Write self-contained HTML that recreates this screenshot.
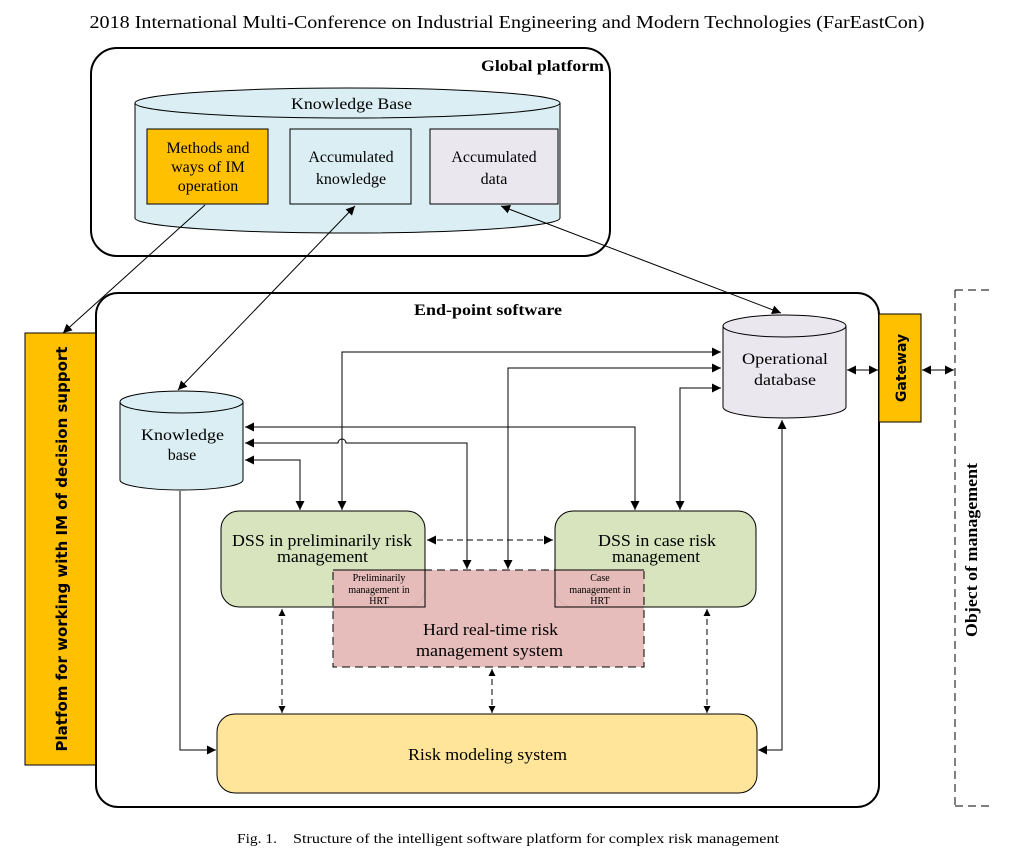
<!DOCTYPE html>
<html><head><meta charset="utf-8"><style>
html,body{margin:0;padding:0;background:#fff;}
svg{display:block;}
text{font-family:"Liberation Serif",serif;fill:#000;}
.s{font-family:"DejaVu Sans","Liberation Sans",sans-serif;font-weight:bold;}
</style></head><body>
<svg width="1014" height="852" viewBox="0 0 1014 852" xmlns="http://www.w3.org/2000/svg">
<defs>
<marker id="a" viewBox="0 0 10 10" refX="10" refY="5" markerWidth="9" markerHeight="9" orient="auto-start-reverse" markerUnits="userSpaceOnUse"><path d="M0,0 L10,5 L0,10 z" fill="#000"/></marker>
<marker id="b" viewBox="0 0 10 10" refX="10" refY="5" markerWidth="7" markerHeight="7" orient="auto-start-reverse" markerUnits="userSpaceOnUse"><path d="M0,0 L10,5 L0,10 z" fill="#000"/></marker>
</defs>
<text x="507" y="28" font-size="18" text-anchor="middle" textLength="835" lengthAdjust="spacingAndGlyphs">2018 International Multi-Conference on Industrial Engineering and Modern Technologies (FarEastCon)</text>

<!-- Global platform -->
<rect x="91" y="48" width="519" height="208" rx="26" fill="#fff" stroke="#000" stroke-width="2"/>
<text x="481" y="71" font-size="16" font-weight="bold" textLength="123" lengthAdjust="spacingAndGlyphs">Global platform</text>
<path d="M135,103 L135,218 A212,15 0 0 0 560,218 L560,103" fill="#daeef3" stroke="#000" stroke-width="1"/>
<ellipse cx="347.5" cy="103" rx="212.5" ry="15" fill="#daeef3" stroke="#000" stroke-width="1"/>
<text x="291" y="109" font-size="16" textLength="121" lengthAdjust="spacingAndGlyphs">Knowledge Base</text>
<rect x="147" y="129" width="121" height="75" fill="#ffc000" stroke="#000"/>
<text x="208" y="153" font-size="16" text-anchor="middle">Methods and</text>
<text x="208" y="172" font-size="16" text-anchor="middle">ways of IM</text>
<text x="208" y="191" font-size="16" text-anchor="middle">operation</text>
<rect x="290" y="129" width="121" height="75" fill="#daeef3" stroke="#000"/>
<text x="351" y="162" font-size="16" text-anchor="middle">Accumulated</text>
<text x="351" y="184" font-size="16" text-anchor="middle">knowledge</text>
<rect x="430" y="129" width="128" height="75" fill="#ebe7ef" stroke="#000"/>
<text x="494" y="162" font-size="16" text-anchor="middle">Accumulated</text>
<text x="494" y="184" font-size="16" text-anchor="middle">data</text>

<!-- Platform left -->
<rect x="25" y="333" width="71" height="432" fill="#ffc000" stroke="#000"/>
<text class="s" transform="translate(67,549) rotate(-90)" font-size="15" text-anchor="middle">Platfom for working with IM of decision support</text>

<!-- End-point -->
<rect x="96" y="293" width="783" height="514" rx="22" fill="#fff" stroke="#000" stroke-width="2"/>
<text x="414" y="315" font-size="16" font-weight="bold" textLength="148" lengthAdjust="spacingAndGlyphs">End-point software</text>

<!-- Gateway -->
<rect x="879" y="314" width="42" height="108" fill="#ffc000" stroke="#000"/>
<text class="s" transform="translate(906,368) rotate(-90)" font-size="14" text-anchor="middle">Gateway</text>

<!-- Object of management -->
<path d="M955,290 L955,806 M955,290 L993,290 M955,806 L993,806" fill="none" stroke="#000" stroke-dasharray="8,5"/>
<text transform="translate(977,637) rotate(-90)" font-size="17" font-weight="bold" textLength="174" lengthAdjust="spacingAndGlyphs">Object of management</text>

<!-- KB cylinder -->
<path d="M120,402 L120,480 A61.5,10 0 0 0 243,480 L243,402" fill="#daeef3" stroke="#000"/>
<ellipse cx="181.5" cy="402" rx="61.5" ry="11" fill="#daeef3" stroke="#000"/>
<text x="141" y="440" font-size="16" textLength="83" lengthAdjust="spacingAndGlyphs">Knowledge</text>
<text x="182" y="460" font-size="16" text-anchor="middle">base</text>

<!-- Operational DB -->
<path d="M723,326 L723,407 A61.5,11 0 0 0 846,407 L846,326" fill="#ebe7ef" stroke="#000"/>
<ellipse cx="784.5" cy="326" rx="61.5" ry="11" fill="#ebe7ef" stroke="#000"/>
<text x="742" y="364" font-size="16" textLength="86" lengthAdjust="spacingAndGlyphs">Operational</text>
<text x="754" y="385" font-size="16" textLength="62" lengthAdjust="spacingAndGlyphs">database</text>

<!-- DSS boxes -->
<rect x="221" y="511" width="204" height="96" rx="18" fill="#d7e4bd" stroke="#000"/>
<text x="232" y="546" font-size="17" textLength="180" lengthAdjust="spacingAndGlyphs">DSS in preliminarily risk</text>
<text x="277" y="562" font-size="17" textLength="91" lengthAdjust="spacingAndGlyphs">management</text>
<rect x="555" y="511" width="201" height="96" rx="18" fill="#d7e4bd" stroke="#000"/>
<text x="598" y="546" font-size="17" textLength="118" lengthAdjust="spacingAndGlyphs">DSS in case risk</text>
<text x="612" y="562" font-size="17" textLength="88" lengthAdjust="spacingAndGlyphs">management</text>

<!-- HRT -->
<rect x="333" y="570" width="311" height="97" fill="#e6b9b8" fill-opacity="0.95" stroke="none"/>
<path d="M333,570 L425,570 L425,607 L333,607" fill="none" stroke="#000"/>
<path d="M644,570 L555,570 L555,607 L644,607" fill="none" stroke="#000"/>
<rect x="333" y="570" width="311" height="97" fill="none" stroke="#000" stroke-dasharray="8,5"/>
<text x="379" y="581" font-size="10" text-anchor="middle">Preliminarily</text>
<text x="379" y="593" font-size="10" text-anchor="middle">management in</text>
<text x="379" y="604" font-size="10" text-anchor="middle">HRT</text>
<text x="600" y="581" font-size="10" text-anchor="middle">Case</text>
<text x="600" y="593" font-size="10" text-anchor="middle">management in</text>
<text x="600" y="604" font-size="10" text-anchor="middle">HRT</text>
<text x="423" y="635" font-size="17" textLength="135" lengthAdjust="spacingAndGlyphs">Hard real-time risk</text>
<text x="416" y="656" font-size="17" textLength="147" lengthAdjust="spacingAndGlyphs">management system</text>

<!-- Risk modeling -->
<rect x="217" y="714" width="540" height="79" rx="18" fill="#fee599" stroke="#000"/>
<text x="408" y="760" font-size="17" textLength="159" lengthAdjust="spacingAndGlyphs">Risk modeling system</text>

<!-- Connectors -->
<g fill="none" stroke="#000" stroke-width="1">
<path d="M205,205 L63,333" marker-end="url(#a)"/>
<path d="M178,390 L355,206" marker-start="url(#a)" marker-end="url(#a)"/>
<path d="M501,206 L781,313" marker-start="url(#a)" marker-end="url(#a)"/>
<path d="M342,510 L342,352 L721,352" marker-start="url(#a)" marker-end="url(#a)"/>
<path d="M508,569 L508,368 L721,368" marker-start="url(#a)" marker-end="url(#a)"/>
<path d="M680,510 L680,388 L721,388" marker-start="url(#a)" marker-end="url(#a)"/>
<path d="M245,427 L635,427 L635,510" marker-start="url(#a)" marker-end="url(#a)"/>
<path d="M245,443 L338,443 A4,4 0 0 1 346,443 L467,443 L467,569" marker-start="url(#a)" marker-end="url(#a)"/>
<path d="M245,460 L300,460 L300,510" marker-start="url(#a)" marker-end="url(#a)"/>
<path d="M180,491 L180,750 L216,750" marker-end="url(#a)"/>
<path d="M782,420 L782,750 L758,750" marker-start="url(#a)" marker-end="url(#a)"/>
<path d="M847,370 L878,370" marker-start="url(#a)" marker-end="url(#a)"/>
<path d="M922,370 L954,370" marker-start="url(#a)" marker-end="url(#a)"/>
<g stroke-dasharray="6,4">
<path d="M427,540 L553,540" marker-start="url(#a)" marker-end="url(#a)"/>
<path d="M282,609 L282,713" marker-start="url(#b)" marker-end="url(#b)"/>
<path d="M492,669 L492,713" marker-start="url(#b)" marker-end="url(#b)"/>
<path d="M707,609 L707,713" marker-start="url(#b)" marker-end="url(#b)"/>
</g>
</g>

<text x="237" y="843" font-size="14" textLength="40" lengthAdjust="spacingAndGlyphs">Fig. 1.</text>
<text x="293" y="843" font-size="14" textLength="486" lengthAdjust="spacingAndGlyphs">Structure of the intelligent software platform for complex risk management</text>
</svg>
</body></html>
